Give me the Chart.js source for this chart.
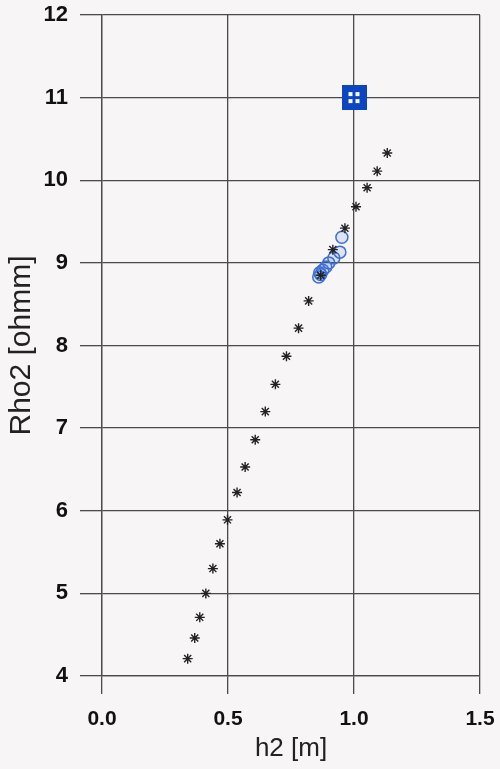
<!DOCTYPE html>
<html>
<head>
<meta charset="utf-8">
<script src="https://cdn.jsdelivr.net/npm/chart.js@4/dist/chart.umd.min.js"></script>
<style>
  html, body { margin: 0; padding: 0; background: #f7f5f5; }
  #wrap { width: 500px; height: 769px; }
</style>
</head>
<body>
<div id="wrap"><canvas id="myChart" width="500" height="769"></canvas></div>
<script>
// measured points (asterisks)
var starH   = [0.34, 0.368, 0.388, 0.412, 0.44, 0.468, 0.498, 0.536, 0.568, 0.608, 0.648, 0.688, 0.732, 0.78, 0.82, 0.868, 0.916, 0.964, 1.008, 1.052, 1.092, 1.132];
var starRho = [4.21, 4.46, 4.71, 5.0, 5.30, 5.60, 5.89, 6.22, 6.53, 6.86, 7.20, 7.53, 7.87, 8.21, 8.54, 8.85, 9.16, 9.42, 9.68, 9.91, 10.11, 10.33];

// open circles
var circH   = [0.952, 0.944, 0.92, 0.9, 0.888, 0.876, 0.864, 0.86, 0.868];
var circRho = [9.31, 9.13, 9.06, 9.0, 8.95, 8.91, 8.88, 8.83, 8.86];

// blue square
var sqH   = [1.0];
var sqRho = [11.0];

var xTicks = [0.0, 0.5, 1.0, 1.5];
var yTicks = [4, 5, 6, 7, 8, 9, 10, 11, 12];

function pts(xs, ys){
  return xs.map(function(x, i){ return {x: x, y: ys[i]}; });
}

// square marker with white window and blue cross
var sq = document.createElement('canvas');
sq.width = 25; sq.height = 25;
var c = sq.getContext('2d');
c.fillStyle = '#0b45c2';
c.fillRect(0, 0, 25, 25);
c.fillStyle = '#ffffff';
c.fillRect(7, 7, 11, 11);
c.fillStyle = '#0b45c2';
c.fillRect(11, 7, 3, 11);
c.fillRect(7, 11, 11, 3);

var gridCol = '#4a4a4a';

const data = {
  datasets: [
    {
      label: 'circles',
      data: pts(circH, circRho),
      pointStyle: 'circle',
      pointRadius: 6,
      borderColor: '#3d6fd6',
      backgroundColor: 'rgba(60,100,210,0.12)',
      borderWidth: 1.5,
      order: 2
    },
    {
      label: 'measured',
      data: pts(starH, starRho),
      pointStyle: 'star',
      pointRadius: 5,
      borderColor: '#222222',
      backgroundColor: '#222222',
      borderWidth: 1.4,
      order: 1
    },
    {
      label: 'square',
      data: pts(sqH, sqRho),
      pointStyle: sq,
      pointRadius: 12,
      order: 0
    }
  ]
};

const config = {
  type: 'scatter',
  data,
  options: {
    responsive: false,
    animation: false,
    layout: { padding: { top: 15, right: 20, bottom: 0, left: 0 } },
    plugins: {
      legend: { display: false },
      tooltip: { enabled: false }
    },
    scales: {
      x: {
        type: 'linear',
        min: 0, max: 1.5,
        afterBuildTicks: function(axis){ axis.ticks = xTicks.map(function(v){ return {value: v}; }); },
        afterFit: function(axis){
          axis.height = 93;
          axis.paddingLeft = 0; axis.paddingRight = 0;
        },
        grid: { color: gridCol, lineWidth: 1.3, tickLength: 18, tickColor: gridCol },
        border: { color: gridCol, width: 1.3 },
        ticks: {
          padding: 13,
          color: '#111',
          font: { family: 'Liberation Sans, Arial', size: 21, weight: 'bold' },
          callback: function(v){ return v.toFixed(1); }
        },
        title: {
          display: true,
          text: 'h2 [m]',
          color: '#222',
          font: { family: 'Liberation Sans, Arial', size: 26 },
          padding: { top: 0, bottom: 5 }
        }
      },
      y: {
        type: 'linear',
        min: 4, max: 12,
        afterBuildTicks: function(axis){ axis.ticks = yTicks.map(function(v){ return {value: v}; }); },
        afterFit: function(axis){
          axis.width = 102;
          axis.paddingTop = 0; axis.paddingBottom = 0;
        },
        grid: { color: gridCol, lineWidth: 1.3, tickLength: 22, tickColor: gridCol },
        border: { color: gridCol, width: 1.3 },
        ticks: {
          padding: 12,
          color: '#111',
          font: { family: 'Liberation Sans, Arial', size: 22, weight: 'bold' }
        },
        title: {
          display: true,
          text: 'Rho2 [ohmm]',
          color: '#222',
          font: { family: 'Liberation Sans, Arial', size: 30 },
          padding: { top: 4, bottom: 0 }
        }
      }
    }
  }
};

var myChart = new Chart(document.getElementById('myChart'), config);
</script>
</body>
</html>
